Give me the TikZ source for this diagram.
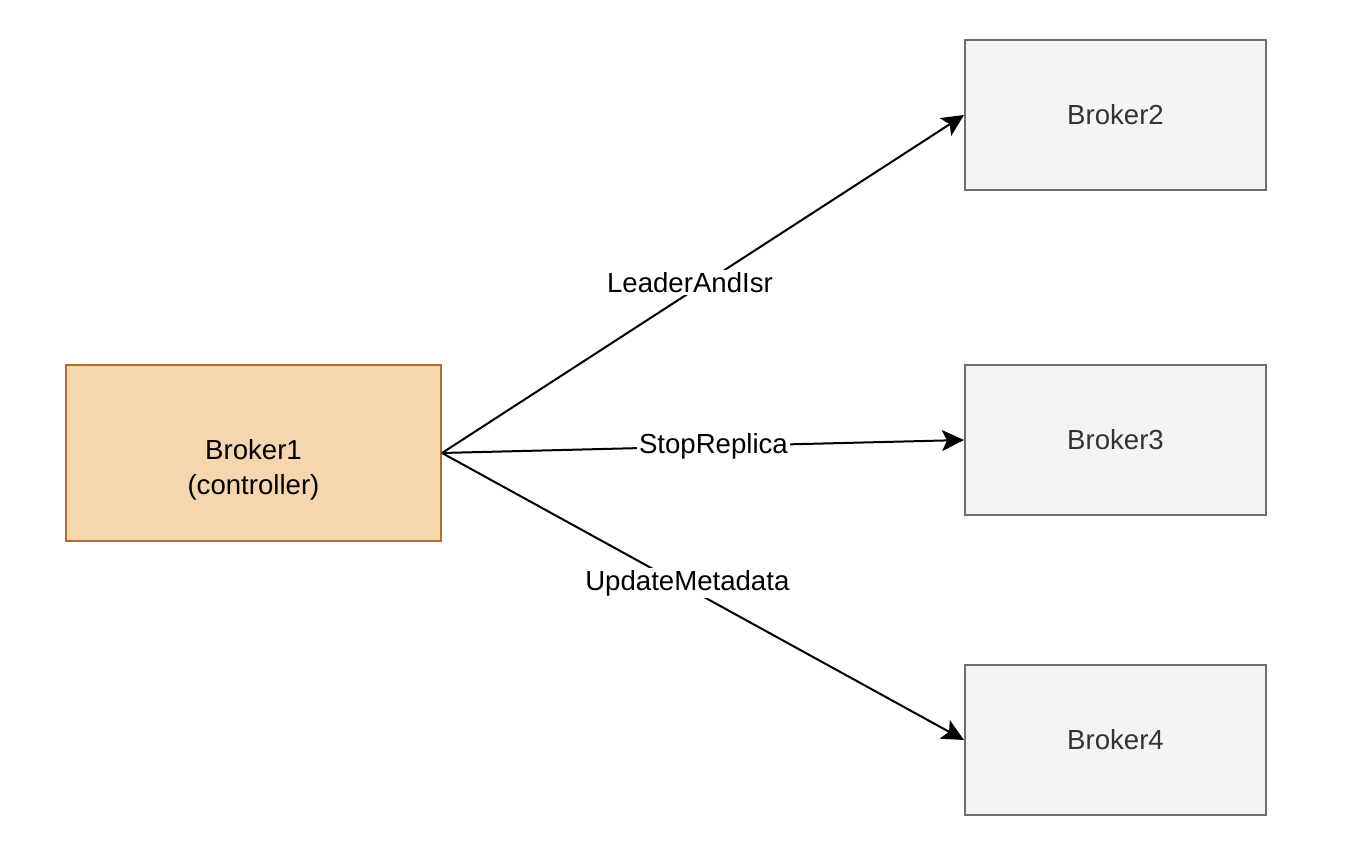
\documentclass[tikz,border=0pt]{standalone}
\usepackage{fontspec}
\setmainfont{Liberation Sans}
\usetikzlibrary{arrows.meta}

\definecolor{ctrlfill}{HTML}{F5D6AE}
\definecolor{ctrlline}{HTML}{B46A2A}
\definecolor{brokerfill}{HTML}{F4F4F4}
\definecolor{brokerline}{HTML}{6E6E6E}
\definecolor{brokertext}{HTML}{333333}

\begin{document}
\begin{tikzpicture}[x=0.5pt,y=-0.5pt,
  every node/.style={font=\fontsize{13.8}{17.5}\selectfont},
  broker/.style={draw=brokerline, fill=brokerfill, text=brokertext, line width=1pt,
    minimum width=150.5pt, minimum height=75pt, inner sep=0pt},
  controller/.style={draw=ctrlline, fill=ctrlfill, line width=1pt,
    minimum width=187.5pt, minimum height=88pt, inner sep=0pt},
  msg/.style={line width=1pt, -{Stealth[length=11pt, width=10.5pt, inset=2.5pt]}},
  msglabel/.style={fill=white, inner sep=1pt}]
\useasboundingbox (0,0) rectangle (1372,860);
\node[controller, label={[name=b1text, align=center, yshift=-8.5pt]center:Broker1\\(controller)}] (b1) at (253.5,453) {};
\node[broker] (b2) at (1115.5,115) {Broker2};
\node[broker] (b3) at (1115.5,440) {Broker3};
\node[broker] (b4) at (1115.5,740) {Broker4};
\draw[msg] (b1.east) -- node[msglabel, pos=0.475, yshift=5pt] {LeaderAndIsr} (b2.west);
\draw[msg] (b1.east) -- node[msglabel, pos=0.52] {StopReplica} (b3.west);
\draw[msg] (b1.east) -- node[msglabel, pos=0.47, yshift=2.5pt] {UpdateMetadata} (b4.west);
\end{tikzpicture}
\end{document}
